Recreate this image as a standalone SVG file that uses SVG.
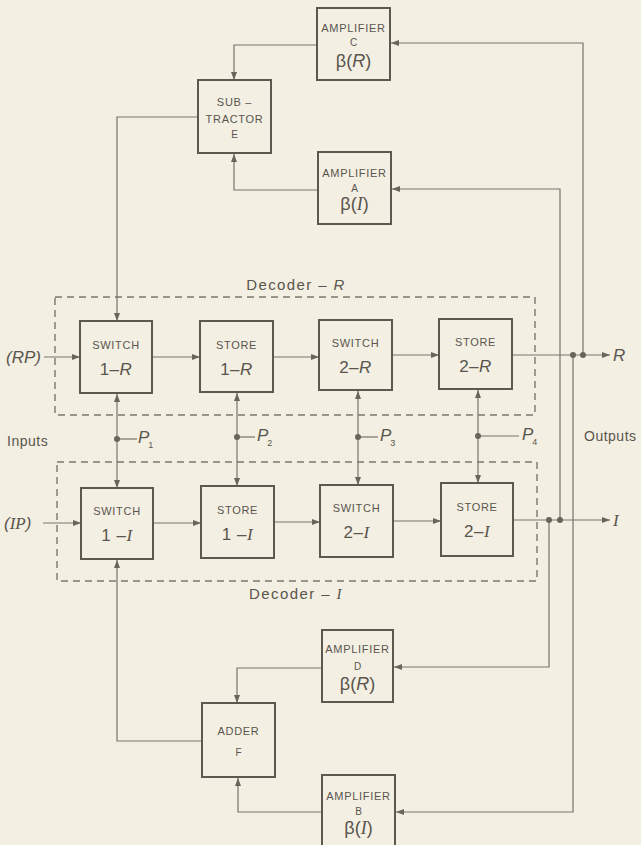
<svg xmlns="http://www.w3.org/2000/svg" width="641" height="845" viewBox="0 0 641 845">
<defs>
<style>
.box{fill:none;stroke:#5e5950;stroke-width:2}
.ln{fill:none;stroke:#7a746b;stroke-width:1.2}
.dash{fill:none;stroke:#7d776e;stroke-width:1.4;stroke-dasharray:7 5}
.dot{fill:#6a645b}
text{font-family:"Liberation Sans",Arial,sans-serif;fill:#5a554d}
.sm{font-size:11px;text-anchor:middle;letter-spacing:0.7px}
.tiny{font-size:10px;text-anchor:middle}
.big{font-size:17px;text-anchor:middle;letter-spacing:0.5px}
.beta{font-size:18px;text-anchor:middle}
.it{font-style:italic}
.ser{font-family:"Liberation Serif","Times New Roman",serif;font-style:italic}
.lab{font-size:14px;letter-spacing:0.5px}
.dec{font-size:15px;letter-spacing:1.4px;text-anchor:middle}
.io{font-size:17px;font-style:italic}
.sub{font-size:9px;font-style:normal}
</style>
<marker id="ar" viewBox="0 0 8 6" refX="8" refY="3" markerWidth="8" markerHeight="6" markerUnits="userSpaceOnUse" orient="auto">
<path d="M0,0 L8,3 L0,6 z" fill="#6a645b"/>
</marker>
</defs>
<rect x="0" y="0" width="641" height="845" fill="#f3efe3"/>

<g id="decoder-R-frame">
<rect class="dash" x="55" y="297" width="480" height="118"/>
<text class="dec" x="296" y="290">Decoder – <tspan class="it">R</tspan></text>
</g>
<g id="decoder-I-frame">
<rect class="dash" x="57" y="462" width="480" height="119"/>
<text class="dec" x="296" y="599">Decoder – <tspan class="ser">I</tspan></text>
</g>

<g id="connectors">
<path class="ln" d="M583,355 V43 H391" marker-end="url(#ar)"/>
<path class="ln" d="M317,45 H234 V80" marker-end="url(#ar)"/>
<path class="ln" d="M560,520 V189 H392" marker-end="url(#ar)"/>
<path class="ln" d="M318,190 H234 V154" marker-end="url(#ar)"/>
<path class="ln" d="M198,117 H117 V321" marker-end="url(#ar)"/>
<path class="ln" d="M44,357 H80" marker-end="url(#ar)"/>
<path class="ln" d="M152,357 H200" marker-end="url(#ar)"/>
<path class="ln" d="M273,357 H319" marker-end="url(#ar)"/>
<path class="ln" d="M392,355 H439" marker-end="url(#ar)"/>
<path class="ln" d="M512,355 H610" marker-end="url(#ar)"/>
<path class="ln" d="M43,523 H81" marker-end="url(#ar)"/>
<path class="ln" d="M153,523 H201" marker-end="url(#ar)"/>
<path class="ln" d="M274,522 H320" marker-end="url(#ar)"/>
<path class="ln" d="M393,521 H441" marker-end="url(#ar)"/>
<path class="ln" d="M513,520 H610" marker-end="url(#ar)"/>
<path class="ln" d="M117,439 V394" marker-end="url(#ar)"/>
<path class="ln" d="M117,439 V488" marker-end="url(#ar)"/>
<path class="ln" d="M117,439 H137"/>
<path class="ln" d="M237,437 V393" marker-end="url(#ar)"/>
<path class="ln" d="M237,437 V486" marker-end="url(#ar)"/>
<path class="ln" d="M237,437 H255"/>
<path class="ln" d="M358,437 V391" marker-end="url(#ar)"/>
<path class="ln" d="M358,437 V485" marker-end="url(#ar)"/>
<path class="ln" d="M358,437 H378"/>
<path class="ln" d="M478,436 V390" marker-end="url(#ar)"/>
<path class="ln" d="M478,436 V483" marker-end="url(#ar)"/>
<path class="ln" d="M478,436 H519"/>
<path class="ln" d="M549,520 V667 H394" marker-end="url(#ar)"/>
<path class="ln" d="M573,355 V812 H396" marker-end="url(#ar)"/>
<path class="ln" d="M322,668 H237 V703" marker-end="url(#ar)"/>
<path class="ln" d="M322,812 H238 V778" marker-end="url(#ar)"/>
<path class="ln" d="M202,741 H117 V560" marker-end="url(#ar)"/>
<circle class="dot" cx="573" cy="355" r="3"/>
<circle class="dot" cx="583" cy="355" r="3"/>
<circle class="dot" cx="549" cy="520" r="3"/>
<circle class="dot" cx="560" cy="520" r="3"/>
<circle class="dot" cx="117" cy="439" r="3"/>
<circle class="dot" cx="237" cy="437" r="3"/>
<circle class="dot" cx="358" cy="437" r="3"/>
<circle class="dot" cx="478" cy="436" r="3"/>
</g>

<g id="amplifier-C">
<rect class="box" x="317" y="8" width="73" height="72"/>
<text class="sm" x="353.5" y="32">AMPLIFIER</text>
<text class="tiny" x="353.5" y="46">C</text>
<text class="beta" x="353.5" y="67">β(<tspan class="it">R</tspan>)</text>
</g>
<g id="subtractor-E">
<rect class="box" x="198" y="80" width="73" height="73"/>
<text class="sm" x="234.5" y="106">SUB –</text>
<text class="sm" x="234.5" y="123">TRACTOR</text>
<text class="tiny" x="234.5" y="138">E</text>
</g>
<g id="amplifier-A">
<rect class="box" x="318" y="152" width="73" height="72"/>
<text class="sm" x="354.5" y="177">AMPLIFIER</text>
<text class="tiny" x="354.5" y="192">A</text>
<text class="beta" x="354.5" y="210">β(<tspan class="ser">I</tspan>)</text>
</g>

<g id="switch-1R">
<rect class="box" x="80" y="321" width="72" height="72"/>
<text class="sm" x="116" y="349">SWITCH</text>
<text class="big" x="116" y="375">1–<tspan class="it">R</tspan></text>
</g>
<g id="store-1R">
<rect class="box" x="200" y="321" width="73" height="71"/>
<text class="sm" x="236.5" y="349">STORE</text>
<text class="big" x="236.5" y="375">1–<tspan class="it">R</tspan></text>
</g>
<g id="switch-2R">
<rect class="box" x="319" y="320" width="73" height="70"/>
<text class="sm" x="355.5" y="347">SWITCH</text>
<text class="big" x="355.5" y="373">2–<tspan class="it">R</tspan></text>
</g>
<g id="store-2R">
<rect class="box" x="439" y="319" width="73" height="70"/>
<text class="sm" x="475.5" y="346">STORE</text>
<text class="big" x="475.5" y="372">2–<tspan class="it">R</tspan></text>
</g>

<g id="switch-1I">
<rect class="box" x="81" y="488" width="72" height="71"/>
<text class="sm" x="117" y="515">SWITCH</text>
<text class="big" x="117" y="541">1 –<tspan class="ser">I</tspan></text>
</g>
<g id="store-1I">
<rect class="box" x="201" y="486" width="73" height="72"/>
<text class="sm" x="237.5" y="514">STORE</text>
<text class="big" x="237.5" y="540">1 –<tspan class="ser">I</tspan></text>
</g>
<g id="switch-2I">
<rect class="box" x="320" y="485" width="73" height="72"/>
<text class="sm" x="356.5" y="512">SWITCH</text>
<text class="big" x="356.5" y="538">2–<tspan class="ser">I</tspan></text>
</g>
<g id="store-2I">
<rect class="box" x="441" y="483" width="72" height="73"/>
<text class="sm" x="477" y="511">STORE</text>
<text class="big" x="477" y="537">2–<tspan class="ser">I</tspan></text>
</g>

<g id="amplifier-D">
<rect class="box" x="322" y="630" width="71" height="72"/>
<text class="sm" x="357.5" y="653">AMPLIFIER</text>
<text class="tiny" x="357.5" y="670">D</text>
<text class="beta" x="357.5" y="690">β(<tspan class="it">R</tspan>)</text>
</g>
<g id="adder-F">
<rect class="box" x="202" y="703" width="73" height="74"/>
<text class="sm" x="238.5" y="735">ADDER</text>
<text class="tiny" x="238.5" y="756">F</text>
</g>
<g id="amplifier-B">
<rect class="box" x="322" y="775" width="73" height="75"/>
<text class="sm" x="358.5" y="800">AMPLIFIER</text>
<text class="tiny" x="358.5" y="815">B</text>
<text class="beta" x="358.5" y="834">β(<tspan class="ser">I</tspan>)</text>
</g>

<g id="labels">
<text class="io" x="6" y="363">(<tspan class="it">RP</tspan>)</text>
<text class="io" x="4" y="529">(<tspan class="ser">IP</tspan>)</text>
<text class="lab" x="7" y="446">Inputs</text>
<text class="lab" x="584" y="441">Outputs</text>
<text class="io" x="613" y="361">R</text>
<text class="io ser" x="613" y="526">I</text>
<text class="io" x="138" y="443">P<tspan class="sub" dx="-1" dy="5">1</tspan></text>
<text class="io" x="257" y="441">P<tspan class="sub" dx="-1" dy="5">2</tspan></text>
<text class="io" x="380" y="441">P<tspan class="sub" dx="-1" dy="5">3</tspan></text>
<text class="io" x="522" y="440">P<tspan class="sub" dx="-1" dy="5">4</tspan></text>
</g>
</svg>
